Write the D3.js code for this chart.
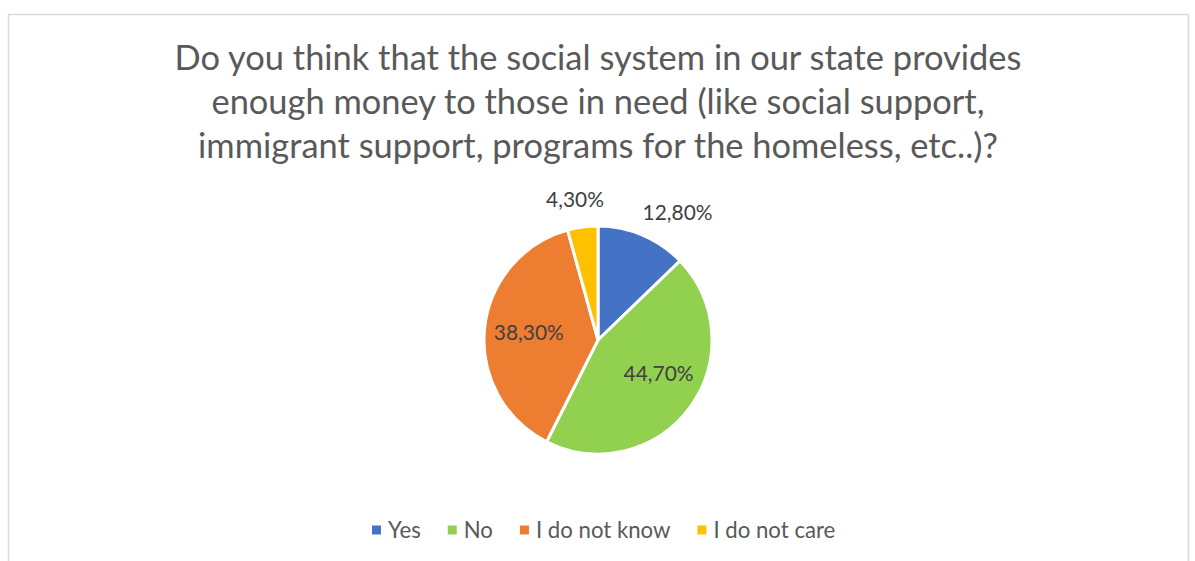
<!DOCTYPE html>
<html>
<head>
<meta charset="utf-8">
<script src="https://cdn.jsdelivr.net/npm/d3@7"></script>
<style>
  body { margin: 0; background: #fff; }
  svg { display: block; }
  text { font-family: Lato, "Open Sans", "Liberation Sans", sans-serif; }
</style>
</head>
<body>
<svg id="chart" width="1195" height="561"></svg>
<script>
// Survey question and answers
const titleLines = [
  "Do you think that the social system in our state provides",
  "enough money to those in need (like social support,",
  "immigrant support, programs for the homeless, etc..)?"
];
const categories = ["Yes", "No", "I do not know", "I do not care"];
const shares = [12.8, 44.7, 38.3, 4.3];
const valueLabels = ["12,80%", "44,70%", "38,30%", "4,30%"];
const sliceColors = ["#4472C4", "#92D050", "#ED7D31", "#FFC000"];

const svg = d3.select("#chart");

// Chart frame
svg.append("rect")
  .attr("x", 8.5).attr("y", 14.5)
  .attr("width", 1180).attr("height", 560)
  .attr("fill", "#fff")
  .attr("stroke", "#d9d9d9").attr("stroke-width", 1.5);

// Scale a text element's font so it spans a given width
function fitWidth(sel, target) {
  sel.style("font-size", "100px");
  const w = sel.node().getComputedTextLength();
  const size = 100 * target / w;
  sel.style("font-size", size + "px");
  return size;
}

// Title
const titleG = svg.append("g");
const t0 = titleG.append("text").text(titleLines[0]);
const titleSize = fitWidth(t0, 847);
t0.remove();
titleLines.forEach((line, i) => {
  titleG.append("text")
    .attr("x", 598).attr("y", 70 + i * 44)
    .attr("text-anchor", "middle")
    .style("font-size", titleSize + "px")
    .attr("fill", "#595959")
    .text(line);
});

// Pie
const cx = 598, cy = 340, r = 114;
const pie = d3.pie().sort(null).value(d => d.value);
const arcs = pie(categories.map((c, i) => ({ cat: c, value: shares[i], label: valueLabels[i], color: sliceColors[i] })));
const arc = d3.arc().innerRadius(0).outerRadius(r);

const pieG = svg.append("g").attr("transform", `translate(${cx},${cy})`);
pieG.selectAll("path")
  .data(arcs)
  .join("path")
  .attr("d", arc)
  .attr("fill", d => d.data.color)
  .attr("stroke", "#fff")
  .attr("stroke-width", 3)
  .attr("stroke-linejoin", "round");

// Data labels: large slices inside, small slices outside the rim
const labelRef = svg.append("text").text("12,80%");
const labelSize = fitWidth(labelRef, 70);
labelRef.remove();

// angular (deg) and radial (px) placement per label
const labelPlace = {
  "Yes": { da: 9, rr: r + 36 },
  "No": { da: -7, rr: r * 0.61 },
  "I do not know": { da: 0, rr: r * 0.61 },
  "I do not care": { da: -1.6, rr: r + 28 }
};
function labelPos(d) {
  const p = labelPlace[d.data.cat];
  const a = (d.startAngle + d.endAngle) / 2 + p.da * Math.PI / 180;
  return [p.rr * Math.sin(a), -p.rr * Math.cos(a)];
}
pieG.selectAll("text.lbl")
  .data(arcs)
  .join("text")
  .attr("class", "lbl")
  .attr("transform", d => `translate(${labelPos(d)})`)
  .attr("text-anchor", "middle")
  .attr("dy", "0.35em")
  .style("font-size", labelSize + "px")
  .attr("fill", "#404040")
  .text(d => d.data.label);

// Legend
const legG = svg.append("g");
const legRef = legG.append("text").text("I do not care");
const legSize = fitWidth(legRef, 122);
legRef.remove();
const items = legG.selectAll("g").data(arcs).join("g");
items.append("rect")
  .attr("width", 9).attr("height", 9)
  .attr("y", -4.5)
  .attr("fill", d => d.data.color);
items.append("text")
  .attr("x", 16).attr("dy", "0.35em")
  .style("font-size", legSize + "px")
  .attr("fill", "#595959")
  .text(d => d.data.cat);
const widths = [];
items.each(function () {
  widths.push(16 + d3.select(this).select("text").node().getComputedTextLength());
});
const gap = 27;
let x = 372;
items.attr("transform", (d, i) => {
  const tx = x;
  x += widths[i] + gap;
  return `translate(${tx},530)`;
});
</script>
</body>
</html>
